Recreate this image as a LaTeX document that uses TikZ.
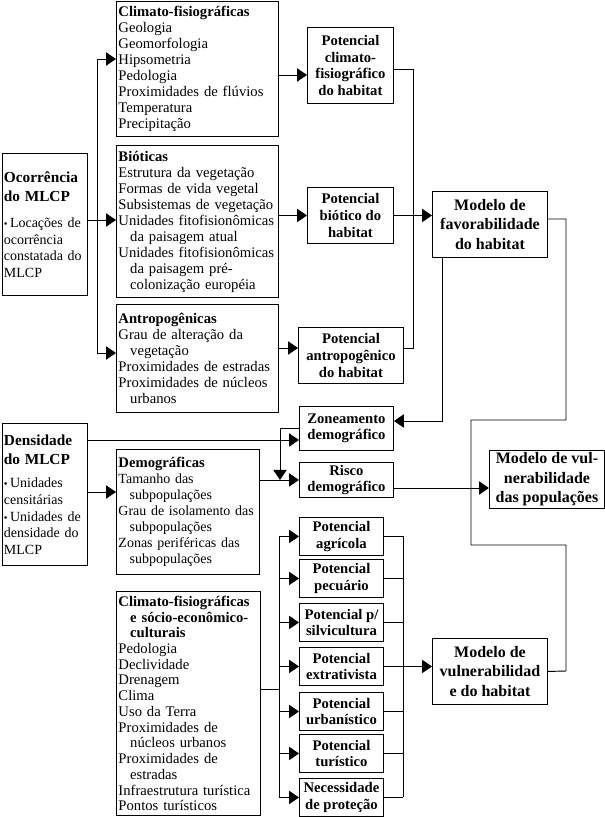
\documentclass[tikz,border=0pt]{standalone}
\usepackage{fontspec}
\setmainfont{Liberation Serif}
\usetikzlibrary{arrows.meta,positioning}

\tikzset{
  lst/.style={draw, anchor=north west, align=left, inner sep=1.5pt,
    font=\fontsize{11}{12}\selectfont},
  pot/.style={draw, anchor=north west, align=center, inner sep=1pt,
    font=\bfseries\fontsize{11}{12.5}\selectfont},
  mdl/.style={draw, anchor=north west, align=center, inner sep=1pt,
    font=\bfseries\fontsize{12}{14.5}\selectfont},
  arr/.style={-{Triangle[length=7.5pt,width=10pt]}},
}
\newcommand{\ind}{\hspace*{0.8em}}
\newcommand{\ttl}[1]{{\bfseries\fontsize{11.5}{14}\selectfont #1}}
\newcommand{\blt}{{\footnotesize\textbullet}\,}

\begin{document}
\begin{tikzpicture}[x=0.75pt, y=-0.75pt, line width=0.7pt]
\useasboundingbox (0,0) rectangle (605,817);

% input boxes
\node[lst, text width=61.5pt, inner sep=1.1pt, minimum height=106.5pt, font=\fontsize{10.5}{12.5}\selectfont] (oc) at (2,153)
  {\ttl{Ocorrência}\\[2pt]\ttl{do MLCP}\\[7pt]\blt Locações de\\ocorrência\\constatada do\\MLCP};
\node[lst, text width=61.5pt, inner sep=1.1pt, minimum height=106.5pt, font=\fontsize{10.5}{12.5}\selectfont] (dn) at (2,423)
  {\ttl{Densidade}\\[2pt]\ttl{do MLCP}\\[5pt]\blt Unidades\\censitárias\\\blt Unidades de\\densidade do\\MLCP};

% variables
\node[lst, text width=118.5pt, minimum height=101.25pt] (cf) at (116,1)
  {\textbf{Climato-fisiográficas}\\Geologia\\Geomorfologia\\Hipsometria\\Pedologia\\Proximidades de flúvios\\Temperatura\\Precipitação};
\node[lst, text width=118.5pt, minimum height=114pt] (bi) at (116,145)
  {\textbf{Bióticas}\\Estrutura da vegetação\\Formas de vida vegetal\\Subsistemas de vegetação\\Unidades fitofisionômicas\\\ind da paisagem atual\\Unidades fitofisionômicas\\\ind da paisagem pré-\\\ind colonização européia};
\node[lst, text width=118.5pt, minimum height=81pt] (an) at (116,304)
  {\textbf{Antropogênicas}\\Grau de alteração da\\\ind vegetação\\Proximidades de estradas\\Proximidades de núcleos\\\ind urbanos};
\node[lst, text width=104.25pt, minimum height=93.75pt, font=\fontsize{10.5}{12}\selectfont] (dem) at (116,449)
  {\textbf{\fontsize{11}{12}\selectfont Demográficas}\\Tamanho das\\\ind subpopulações\\Grau de isolamento das\\\ind subpopulações\\Zonas periféricas das\\\ind subpopulações};
\node[lst, text width=105pt, minimum height=168pt, font=\fontsize{11}{11.8}\selectfont] (cs) at (116,591)
  {\textbf{Climato-fisiográficas}\\\ind\textbf{e sócio-econômico-}\\\ind\textbf{culturais}\\Pedologia\\Declividade\\Drenagem\\Clima\\Uso da Terra\\Proximidades de\\\ind núcleos urbanos\\Proximidades de\\\ind estradas\\Infraestrutura turística\\Pontos turísticos};

% potentials
\node[pot, minimum width=64.5pt, minimum height=57pt] (pcf) at (307,27) {Potencial\\climato-\\fisiográfico\\do habitat};
\node[pot, minimum width=64.5pt, minimum height=42pt] (pb) at (307,187) {Potencial\\biótico do\\habitat};
\node[pot, minimum width=78.75pt, minimum height=42pt] (pa) at (298,327) {Potencial\\antropogênico\\do habitat};
\node[pot, minimum width=70.5pt, minimum height=33pt] (zd) at (299,406) {Zoneamento\\demográfico};
\node[pot, minimum width=70.5pt, minimum height=26.25pt] (rd) at (299,462) {Risco\\demográfico};
\node[pot, minimum width=63pt, minimum height=28.5pt] (agr) at (299,517) {Potencial\\agrícola};
\node[pot, minimum width=63pt, minimum height=28.5pt] (pec) at (299,559) {Potencial\\pecuário};
\node[pot, minimum width=63pt, minimum height=28.5pt] (sil) at (299,603) {Potencial p/\\silvicultura};
\node[pot, minimum width=63pt, minimum height=28.5pt] (ext) at (299,647) {Potencial\\extrativista};
\node[pot, minimum width=63pt, minimum height=28.5pt] (urb) at (299,692) {Potencial\\urbanístico};
\node[pot, minimum width=63pt, minimum height=28.5pt] (tur) at (299,734) {Potencial\\turístico};
\node[pot, minimum width=63pt, minimum height=28.5pt] (nec) at (299,778) {Necessidade\\de proteção};

% models
\node[mdl, minimum width=86.25pt, minimum height=49.5pt] (mf) at (432,191) {Modelo de\\favorabilidade\\do habitat};
\node[mdl, minimum width=86.25pt, minimum height=43.5pt] (mvp) at (489,450) {Modelo de vul-\\nerabilidade\\das populações};
\node[mdl, minimum width=86.25pt, minimum height=49.5pt] (mv) at (432,638) {Modelo de\\vulnerabilidad\\e do habitat};

% upper connectors
\coordinate (ctop) at (97,59);
\coordinate (cbot) at (97,353);
\draw (ctop) -- (cbot);
\draw[arr] (ctop) -- (ctop -| cf.west);
\draw[arr] (cbot) -- (cbot -| an.west);
\draw[arr] (oc.east |- 0,220) -- (bi.west |- 0,220);
\draw[arr] (cf.east |- 0,75) -- (pcf.west |- 0,75);
\draw[arr] (bi.east |- pb.west) -- (pb.west);
\draw[arr] (an.east |- 0,348) -- (pa.west |- 0,348);
\draw (pcf.east |- 0,69) -- (413,69) -- (413,348) -- (pa.east |- 0,348);
\draw[arr] (pb.east) -- (pb.east -| mf.west);
\draw (mf.east |- 0,219) -- (566,219) -- (566,420) -- (471,420) -- (471,545)
  -- (566,545) -- (566,671) -- (mv.east);
\draw[arr] (mf.south -| 442,0) -- (442,421) -- (zd.east |- 0,421);

% demographic connectors
\draw[arr] (dn.east |- 0,440) -- (zd.west |- 0,440);
\draw[arr] (dn.east |- 0,492) -- (dem.west |- 0,492);
\draw[arr] (dem.east |- rd.west) -- (rd.west);
\draw[arr] (zd.west |- 0,428) -- (280,428) -- (rd.west -| 280,0);
\draw[arr] (rd.east |- 0,488) -- (mvp.west |- 0,488);

% lower connectors
\draw (cs.east |- 0,689) -- (279,689);
\draw (agr.west -| 279,0) -- (nec.west -| 279,0);
\foreach \p in {agr,pec,sil,ext,urb,tur,nec}
  \draw[arr] (\p.west -| 279,0) -- (\p.west);
\draw (agr.east -| 403,0) -- (nec.east -| 403,0);
\foreach \p in {agr,pec,sil,urb,tur,nec}
  \draw (\p.east) -- (\p.east -| 403,0);
\draw[arr] (ext.east) -- (ext.east -| mv.west);
\end{tikzpicture}
\end{document}
